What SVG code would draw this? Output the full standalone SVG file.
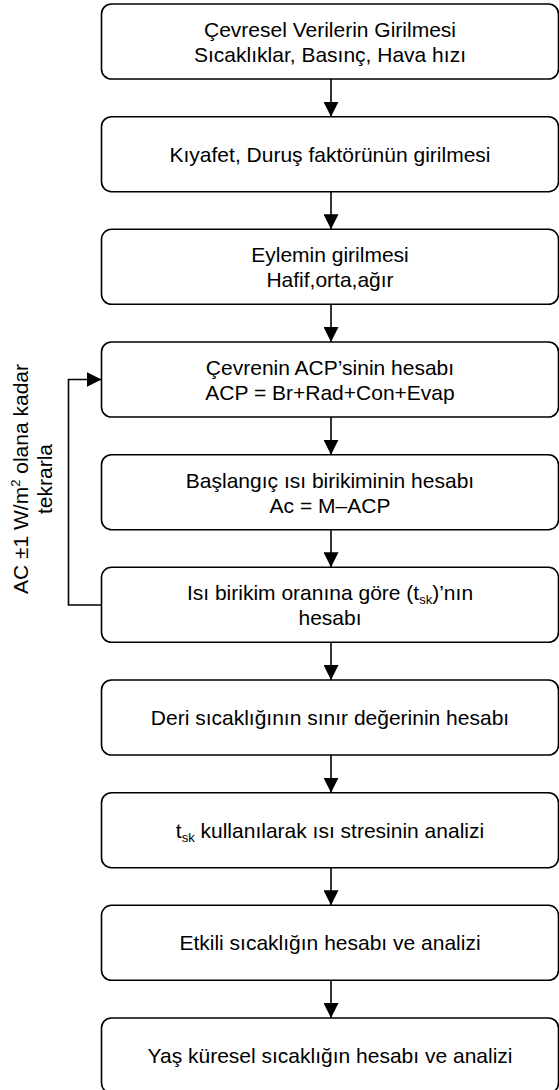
<svg xmlns="http://www.w3.org/2000/svg" width="559" height="1090" viewBox="0 0 559 1090">
<style>
.box{fill:#fff;stroke:#000;stroke-width:1.6}
.t{font-family:"Liberation Sans",Arial,sans-serif;font-size:21px;fill:#000;text-anchor:middle}
.sm{font-size:13px}
.c{fill:none;stroke:#000;stroke-width:1.6}
</style>
<defs>
<marker id="ah" markerWidth="15" markerHeight="15" refX="15" refY="7.5" orient="auto" markerUnits="userSpaceOnUse">
<path d="M0,0 L15,7.5 L0,15 Z" fill="#000"/>
</marker>
</defs>
<rect width="559" height="1090" fill="#fff"/>
<g id="connectors">
<line class="c" x1="331" y1="79" x2="331" y2="116.7" marker-end="url(#ah)"/>
<line class="c" x1="331" y1="191.7" x2="331" y2="229.3" marker-end="url(#ah)"/>
<line class="c" x1="331" y1="304.3" x2="331" y2="342" marker-end="url(#ah)"/>
<line class="c" x1="331" y1="417" x2="331" y2="454.7" marker-end="url(#ah)"/>
<line class="c" x1="331" y1="529.7" x2="331" y2="567.3" marker-end="url(#ah)"/>
<line class="c" x1="331" y1="642.3" x2="331" y2="680" marker-end="url(#ah)"/>
<line class="c" x1="331" y1="755" x2="331" y2="792.7" marker-end="url(#ah)"/>
<line class="c" x1="331" y1="867.7" x2="331" y2="905.3" marker-end="url(#ah)"/>
<line class="c" x1="331" y1="980.3" x2="331" y2="1018" marker-end="url(#ah)"/>
<polyline class="c" points="101.5,605 68.5,605 68.5,379.5 101.5,379.5" marker-end="url(#ah)"/>
</g>
<g id="loop-label">
<text class="t" transform="translate(28,479) rotate(-90)">AC ±1 W/m<tspan class="sm" dy="-8">2</tspan><tspan dy="8"> olana kadar</tspan></text>
<text class="t" transform="translate(52,479) rotate(-90)">tekrarla</text>
</g>
<g id="n1">
<rect class="box" x="101.5" y="4" width="457" height="75" rx="10"/>
<text class="t" x="330" y="37">Çevresel Verilerin Girilmesi</text>
<text class="t" x="330" y="62">Sıcaklıklar, Basınç, Hava hızı</text>
</g>
<g id="n2">
<rect class="box" x="101.5" y="116.7" width="457" height="75" rx="10"/>
<text class="t" x="330" y="162">Kıyafet, Duruş faktörünün girilmesi</text>
</g>
<g id="n3">
<rect class="box" x="101.5" y="229.3" width="457" height="75" rx="10"/>
<text class="t" x="330" y="262">Eylemin girilmesi</text>
<text class="t" x="330" y="287">Hafif,orta,ağır</text>
</g>
<g id="n4">
<rect class="box" x="101.5" y="342" width="457" height="75" rx="10"/>
<text class="t" x="330" y="375">Çevrenin ACP’sinin hesabı</text>
<text class="t" x="330" y="400">ACP = Br+Rad+Con+Evap</text>
</g>
<g id="n5">
<rect class="box" x="101.5" y="454.7" width="457" height="75" rx="10"/>
<text class="t" x="330" y="488">Başlangıç ısı birikiminin hesabı</text>
<text class="t" x="330" y="513">Ac = M–ACP</text>
</g>
<g id="n6">
<rect class="box" x="101.5" y="567.3" width="457" height="75" rx="10"/>
<text class="t" x="330" y="600">Isı birikim oranına göre (t<tspan class="sm" dy="4">sk</tspan><tspan dy="-4">)’nın</tspan></text>
<text class="t" x="330" y="625">hesabı</text>
</g>
<g id="n7">
<rect class="box" x="101.5" y="680" width="457" height="75" rx="10"/>
<text class="t" x="330" y="725">Deri sıcaklığının sınır değerinin hesabı</text>
</g>
<g id="n8">
<rect class="box" x="101.5" y="792.7" width="457" height="75" rx="10"/>
<text class="t" x="330" y="838">t<tspan class="sm" dy="4">sk</tspan><tspan dy="-4"> kullanılarak ısı stresinin analizi</tspan></text>
</g>
<g id="n9">
<rect class="box" x="101.5" y="905.3" width="457" height="75" rx="10"/>
<text class="t" x="330" y="950">Etkili sıcaklığın hesabı ve analizi</text>
</g>
<g id="n10">
<rect class="box" x="101.5" y="1018" width="457" height="75" rx="10"/>
<text class="t" x="330" y="1063">Yaş küresel sıcaklığın hesabı ve analizi</text>
</g>
</svg>
